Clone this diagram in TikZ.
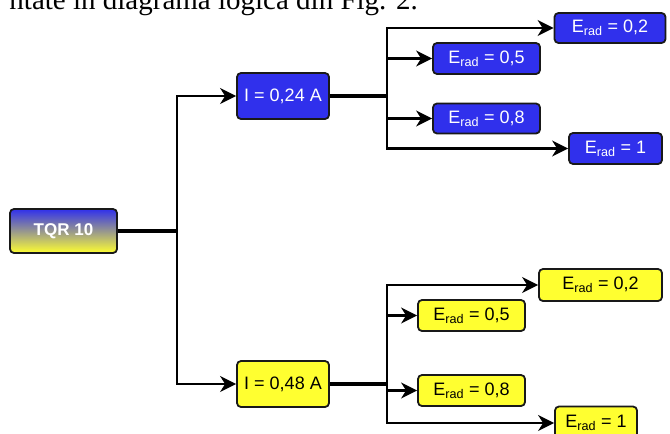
\documentclass[tikz,border=0pt]{standalone}
\usepackage{fontspec}
\setmainfont{Liberation Serif}
\newfontfamily\boxfont{Liberation Sans}
\usetikzlibrary{arrows.meta}
\definecolor{bbox}{RGB}{48,48,236}
\definecolor{ybox}{RGB}{255,255,48}
\definecolor{edge}{RGB}{25,25,25}
\tikzset{
  base/.style={draw=edge, line width=1.8pt, rounded corners=4pt, inner sep=0pt, font=\boxfont\fontsize{18}{19}\selectfont},
  bluebox/.style={base, fill=bbox, text=white},
  yelbox/.style={base, fill=ybox, text=black},
  trunk/.style={line width=3.2pt, draw=black},
  arr/.style={line width=2.2pt, draw=black, -{Stealth[length=16pt,width=16pt,inset=5pt]}},
}
\newcommand{\Erad}[1]{E\textsubscript{rad} = #1}
\begin{document}
\begin{tikzpicture}[x=1pt,y=-1pt]
\useasboundingbox (0,0) rectangle (670,434);
\clip (0,0) rectangle (670,434);
\fill[white] (0,0) rectangle (670,434);
\node[anchor=base east, inner sep=0pt, font=\fontsize{29}{30}\selectfont] (cap) at (418,9) {ntate în diagrama logică din Fig. 2.};

\node[base, top color=bbox, bottom color=ybox, text=white, font=\boxfont\bfseries\fontsize{17}{18}\selectfont, minimum width=107pt, minimum height=44pt] (tqr) at (63.5,231) {TQR 10};

\node[bluebox, minimum width=92pt, minimum height=46pt] (i1) at (283,96) {I = 0,24 A};
\node[yelbox, minimum width=92pt, minimum height=46pt] (i2) at (283,384) {I = 0,48 A};

\node[bluebox, minimum width=111pt, minimum height=30pt] (b02) at (610,28) {\Erad{0,2}};
\node[bluebox, minimum width=107pt, minimum height=31pt] (b05) at (486.5,58.5) {\Erad{0,5}};
\node[bluebox, minimum width=107pt, minimum height=30pt] (b08) at (486.5,118.5) {\Erad{0,8}};
\node[bluebox, minimum width=93pt, minimum height=31pt] (b1) at (615.5,148.5) {\Erad{1}};

\node[yelbox, minimum width=123pt, minimum height=32pt] (y02) at (600.5,285) {\Erad{0,2}};
\node[yelbox, minimum width=107pt, minimum height=31pt] (y05) at (471.5,315.5) {\Erad{0,5}};
\node[yelbox, minimum width=107pt, minimum height=31pt] (y08) at (471.5,390.5) {\Erad{0,8}};
\node[yelbox, minimum width=82pt, minimum height=33pt] (y1) at (596,423) {\Erad{1}};

\coordinate (j0) at (177,231);
\coordinate (j1) at (387,96);
\coordinate (j2) at (387,384);

\draw[trunk] (tqr.east) -- (j0);
\draw[arr] (j0) |- (i1.west);
\draw[arr] (j0) |- (i2.west);

\draw[trunk] (i1.east) -- (j1);
\draw[arr] (j1) |- (b02.west);
\draw[arr] (j1) |- (b05.west);
\draw[arr] (j1) |- (b08.west);
\draw[arr] (j1) |- (b1.west);

\draw[trunk] (i2.east) -- (j2);
\draw[arr] (j2) |- (y02.west);
\draw[arr] (j2) |- (y05.west);
\draw[arr] (j2) |- (y08.west);
\draw[arr] (j2) |- (y1.west);
\end{tikzpicture}
\end{document}
